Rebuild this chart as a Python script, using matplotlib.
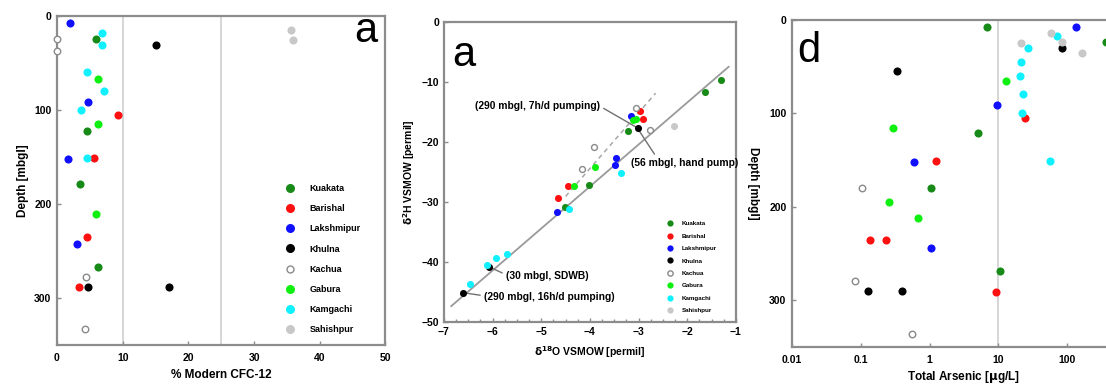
import numpy as np
import matplotlib
matplotlib.use('Agg')
import matplotlib.pyplot as plt
from matplotlib.ticker import MultipleLocator, FixedLocator
import matplotlib.lines as mlines

plt.rcParams['font.family'] = ['Liberation Sans', 'DejaVu Sans']
plt.rcParams['font.weight'] = 'bold'
plt.rcParams['axes.labelweight'] = 'bold'
plt.rcParams['mathtext.default'] = 'bf'

# ── data ──────────────────────────────────────────────────────────────────────
SITES = ['Kuakata', 'Barishal', 'Lakshmipur', 'Khulna', 'Kachua',
         'Gabura', 'Kamgachi', 'Sahishpur']

# panel 1: % modern CFC-12 vs depth
cfc_site = ['Lakshmipur', 'Kachua', 'Kachua', 'Kuakata', 'Kamgachi', 'Kamgachi',
            'Khulna', 'Sahishpur', 'Sahishpur', 'Kamgachi', 'Gabura', 'Kamgachi',
            'Lakshmipur', 'Kamgachi', 'Barishal', 'Gabura', 'Kuakata', 'Lakshmipur',
            'Kamgachi', 'Barishal', 'Kuakata', 'Gabura', 'Barishal', 'Lakshmipur',
            'Kuakata', 'Kachua', 'Barishal', 'Khulna', 'Khulna', 'Kachua']
cfc_pct = [2.0, 0.0, 0.0, 5.9, 6.9, 6.8,
           15.0, 35.6, 36.0, 4.6, 6.2, 7.2,
           4.8, 3.7, 9.3, 6.3, 4.6, 1.7,
           4.5, 5.7, 3.5, 6.0, 4.5, 3.0,
           6.3, 4.4, 3.4, 4.8, 17.0, 4.2]
cfc_depth = [8, 25, 37, 25, 18, 31,
             31, 15, 26, 60, 67, 80,
             92, 100, 105, 115, 122, 152,
             151, 151, 179, 211, 235, 243,
             267, 278, 288, 288, 288, 333]

# panel 2: d18O vs d2H
iso_site = ['Kuakata', 'Kuakata', 'Kuakata', 'Kuakata', 'Kuakata',
            'Barishal', 'Barishal', 'Barishal', 'Barishal',
            'Lakshmipur', 'Lakshmipur', 'Lakshmipur', 'Lakshmipur',
            'Khulna', 'Khulna', 'Khulna',
            'Kachua', 'Kachua', 'Kachua', 'Kachua',
            'Gabura', 'Gabura', 'Gabura', 'Gabura',
            'Kamgachi', 'Kamgachi', 'Kamgachi', 'Kamgachi', 'Kamgachi', 'Kamgachi',
            'Sahishpur']
iso_d18o = [-1.30, -1.63, -3.22, -4.01, -4.52,
            -2.98, -2.91, -4.46, -4.65,
            -3.16, -3.46, -3.49, -4.68,
            -3.01, -6.07, -6.61,
            -3.05, -2.77, -3.91, -4.16,
            -3.05, -3.12, -3.89, -4.32,
            -3.37, -4.44, -5.70, -5.94, -6.12, -6.46,
            -2.27]
iso_d2h = [-9.7, -11.6, -18.1, -27.2, -30.9,
           -14.9, -16.1, -27.4, -29.4,
           -15.7, -22.7, -23.8, -31.6,
           -17.7, -40.8, -45.1,
           -14.4, -18.0, -20.8, -24.5,
           -16.1, -16.3, -24.1, -27.4,
           -25.2, -31.2, -38.7, -39.4, -40.5, -43.6,
           -17.3]

# water lines: slope, intercept, x-range
lmwl_slope, lmwl_icpt, lmwl_x = 7.0, 0.6, [-6.85, -1.15]
mix_slope, mix_icpt, mix_x = 9.3, 12.8, [-4.5, -2.65]

iso_notes = ['(290 mbgl, 7h/d pumping)', '(56 mbgl, hand pump)',
             '(30 mbgl, SDWB)', '(290 mbgl, 16h/d pumping)']
note_target = [(-3.03, -17.6), (-3.03, -17.6), (-6.07, -40.8), (-6.61, -45.1)]
note_text_xy = [(-3.8, -14.0), (-3.15, -23.5), (-5.72, -42.3), (-6.17, -45.8)]
note_ha = ['right', 'left', 'left', 'left']
note_relpos = [(1, 0.5), (0.24, 1.0), (0, 0.6), (0, 0.6)]

# panel 3: total arsenic vs depth
as_site = ['Kuakata', 'Lakshmipur', 'Kuakata', 'Sahishpur', 'Kamgachi',
           'Sahishpur', 'Sahishpur', 'Khulna', 'Kamgachi', 'Sahishpur',
           'Kamgachi', 'Kamgachi', 'Khulna', 'Gabura', 'Kamgachi',
           'Lakshmipur', 'Kamgachi', 'Barishal', 'Gabura', 'Kuakata',
           'Lakshmipur', 'Barishal', 'Kamgachi', 'Kachua', 'Kuakata',
           'Gabura', 'Gabura', 'Barishal', 'Barishal', 'Lakshmipur',
           'Kuakata', 'Kachua', 'Khulna', 'Khulna', 'Barishal', 'Kachua']
as_conc = [6.8, 135, 363, 58, 71,
           21.5, 83, 0.34, 27, 162,
           21.5, 20.6, 83, 12.9, 23,
           9.5, 22, 24.5, 0.29, 5.1,
           0.59, 1.22, 56, 0.104, 1.06,
           0.26, 0.67, 0.137, 0.23, 1.05,
           10.6, 0.082, 0.128, 0.40, 9.2, 0.55]
as_depth = [7.5, 7.5, 23.5, 14, 17,
            24.6, 23.5, 55, 30, 35.5,
            45, 60, 30, 66, 79,
            91, 99.5, 105, 116, 121,
            152, 151, 151, 180, 180,
            195, 212, 236, 236, 244,
            269, 280, 290, 290, 291, 336]

# ── styles ────────────────────────────────────────────────────────────────────
STYLE = {
    'Kuakata':    dict(fc='#188a18', ec='#188a18'),
    'Barishal':   dict(fc='#ff1010', ec='#ff1010'),
    'Lakshmipur': dict(fc='#1010ff', ec='#1010ff'),
    'Khulna':     dict(fc='#000000', ec='#000000'),
    'Kachua':     dict(fc='white',   ec='#8a8a8a'),
    'Gabura':     dict(fc='#10f010', ec='#10f010'),
    'Kamgachi':   dict(fc='#10f0ff', ec='#10f0ff'),
    'Sahishpur':  dict(fc='#c8c8c8', ec='#c8c8c8'),
}
SPINE = '#8c8c8c'
REF = '#d0d0d0'


def style_axes(ax, pad=3.5):
    for s in ax.spines.values():
        s.set_color(SPINE)
        s.set_linewidth(1.6)
    ax.tick_params(which='both', direction='in', color=SPINE, labelsize=7.5,
                   width=1.0, length=3, pad=pad)
    ax.tick_params(which='minor', length=2)


def scatter_sites(ax, sites, xs, ys, size, open_size):
    sites = np.array(sites); xs = np.array(xs); ys = np.array(ys)
    for name in SITES:
        m = sites == name
        if not m.any():
            continue
        st = STYLE[name]
        s = open_size if name == 'Kachua' else size
        lw = 1.0 if name == 'Kachua' else 0.0
        ax.scatter(xs[m], ys[m], s=s, c=st['fc'], edgecolors=st['ec'],
                   linewidths=lw, zorder=5, clip_on=False)


def site_handles(ms, open_ms):
    hs = []
    for name in SITES:
        st = STYLE[name]
        hs.append(mlines.Line2D([], [], ls='none', marker='o',
                                ms=open_ms if name == 'Kachua' else ms,
                                mfc=st['fc'], mec=st['ec'],
                                mew=1.0 if name == 'Kachua' else 0.0,
                                label=name))
    return hs


fig = plt.figure(figsize=(11.06, 3.88), dpi=100)

# ── panel 1 ───────────────────────────────────────────────────────────────────
ax1 = fig.add_axes([0.0515, 0.111, 0.297, 0.848])
style_axes(ax1, pad=6)
ax1.axvline(10, color=REF, lw=1.2, zorder=1)
ax1.axvline(25, color=REF, lw=1.2, zorder=1)
scatter_sites(ax1, cfc_site, cfc_pct, cfc_depth, 34, 22)
ax1.set_xlim(0, 50)
ax1.set_ylim(350, 0)
ax1.xaxis.set_major_locator(MultipleLocator(10))
ax1.yaxis.set_major_locator(FixedLocator([0, 100, 200, 300]))
ax1.tick_params(axis='y', pad=4)
ax1.set_xlabel('% Modern CFC-12', fontsize=8.5, labelpad=4)
ax1.set_ylabel('Depth [mbgl]', fontsize=8.5, labelpad=4)
ax1.text(0.975, 0.955, 'a', transform=ax1.transAxes, fontsize=30,
         fontweight='normal', ha='right', va='center', clip_on=False)
leg1 = ax1.legend(handles=site_handles(6.5, 5), loc='upper left',
                  bbox_to_anchor=(0.67, 0.50), frameon=False, fontsize=6.5,
                  handletextpad=1.2, labelspacing=1.24, borderaxespad=0)

# ── panel 2 ───────────────────────────────────────────────────────────────────
ax2 = fig.add_axes([0.4014, 0.170, 0.264, 0.773])
style_axes(ax2)
lx = np.array(lmwl_x)
ax2.plot(lx, lmwl_slope * lx + lmwl_icpt, color='#9a9a9a', lw=1.3, zorder=2)
mx = np.array(mix_x)
ax2.plot(mx, mix_slope * mx + mix_icpt, color='#a8a8a8', lw=1.1,
         ls=(0, (3, 2.5)), zorder=2)
scatter_sites(ax2, iso_site, iso_d18o, iso_d2h, 26, 18)
for note, tgt, txy, ha, rp in zip(iso_notes, note_target, note_text_xy,
                                  note_ha, note_relpos):
    ax2.annotate(note, xy=tgt, xytext=txy, textcoords='data', fontsize=7.4,
                 ha=ha, va='center',
                 arrowprops=dict(arrowstyle='-', color='#707070', lw=1.0,
                                 shrinkA=1, shrinkB=0, relpos=rp),
                 zorder=4)
ax2.set_xlim(-7, -1)
ax2.set_ylim(-50, 0)
ax2.xaxis.set_major_locator(MultipleLocator(1))
ax2.xaxis.set_minor_locator(MultipleLocator(0.25))
ax2.yaxis.set_major_locator(MultipleLocator(10))
ax2.set_xlabel(r'$\delta^{18}$O VSMOW [permil]', fontsize=7.5, labelpad=5)
ax2.set_ylabel(r'$\delta^{2}$H VSMOW [permil]', fontsize=7.5, labelpad=3)
ax2.text(0.03, 0.89, 'a', transform=ax2.transAxes, fontsize=30,
         fontweight='normal', ha='left', va='center')
leg2 = ax2.legend(handles=site_handles(4.5, 3.8), loc='upper left',
                  bbox_to_anchor=(0.745, 0.345), frameon=False, fontsize=4.5,
                  handletextpad=0.8, labelspacing=1.12, borderaxespad=0)

# ── panel 3 ───────────────────────────────────────────────────────────────────
ax3 = fig.add_axes([0.7161, 0.106, 0.311, 0.843])
style_axes(ax3, pad=6)
ax3.set_xscale('log')
ax3.axvline(10, color=REF, lw=1.2, zorder=1)
scatter_sites(ax3, as_site, as_conc, as_depth, 34, 22)
ax3.set_xlim(0.01, 1000)
ax3.set_ylim(350, 0)
ax3.xaxis.set_major_locator(FixedLocator([0.01, 0.1, 1, 10, 100]))
ax3.set_xticklabels(['0.01', '0.1', '1', '10', '100'])
ax3.xaxis.set_minor_locator(FixedLocator([]))
ax3.yaxis.set_major_locator(FixedLocator([0, 100, 200, 300]))
ax3.tick_params(axis='y', pad=4)
ax3.set_xlabel(r'Total Arsenic [$\mu$g/L]', fontsize=8.5, labelpad=3)
ax3.set_ylabel('Depth [mbgl]', fontsize=8.5, rotation=270, va='center',
               ha='center')
ax3.yaxis.set_label_coords(-0.113, 0.5)
ax3.text(0.015, 0.905, 'd', transform=ax3.transAxes, fontsize=30,
         fontweight='normal', ha='left', va='center')

fig.savefig('out.png', dpi=100, facecolor='white')
